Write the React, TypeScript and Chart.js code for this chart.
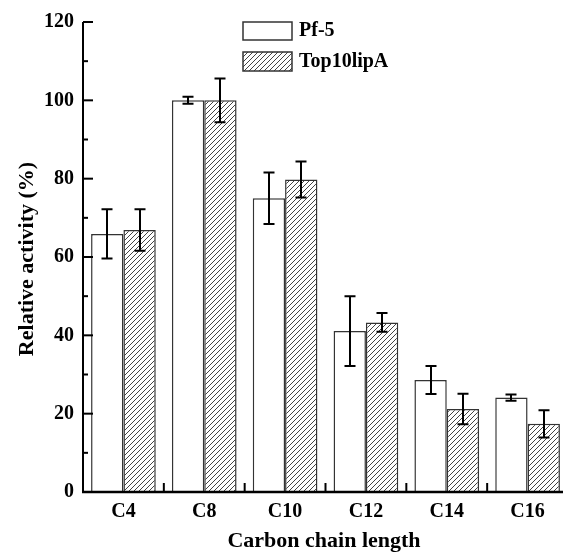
import React, { useEffect, useRef } from "react";
import { Chart, registerables } from "chart.js";
Chart.register(...registerables);

const categories = ["C4", "C8", "C10", "C12", "C14", "C16"];
const seriesNames = ["Pf-5", "Top10lipA"];
const pf5Values = [65.9, 100, 75.0, 41.1, 28.6, 24.1];
const pf5Errors = [6.3, 0.9, 6.6, 8.9, 3.6, 0.8];
const top10Values = [66.9, 100, 79.8, 43.3, 21.2, 17.4];
const top10Errors = [5.3, 5.6, 4.6, 2.4, 3.9, 3.5];
const yMin = 0;
const yMax = 120;
const yStep = 20;
const yMinorStep = 10;
const xTitle = "Carbon chain length";
const yTitle = "Relative activity (%)";

const FONT = "'Liberation Serif', 'Times New Roman', serif";

function makeHatch(ctx: CanvasRenderingContext2D): CanvasPattern | string {
  const s = 5;
  const c = document.createElement("canvas");
  c.width = s;
  c.height = s;
  const g = c.getContext("2d")!;
  g.fillStyle = "#ffffff";
  g.fillRect(0, 0, s, s);
  g.strokeStyle = "#444";
  g.lineWidth = 1;
  g.beginPath();
  g.moveTo(0, s);
  g.lineTo(s, 0);
  g.moveTo(-1, 1);
  g.lineTo(1, -1);
  g.moveTo(s - 1, s + 1);
  g.lineTo(s + 1, s - 1);
  g.stroke();
  return ctx.createPattern(c, "repeat") || "#ccc";
}

export default function App() {
  const ref = useRef<HTMLCanvasElement | null>(null);
  useEffect(() => {
    const canvas = ref.current!;
    const ctx = canvas.getContext("2d")!;
    const hatch = makeHatch(ctx);
    const errors = [pf5Errors, top10Errors];

    const errorPlugin = {
      id: "errorBars",
      afterDatasetsDraw(chart: any) {
        const c = chart.ctx;
        const ys = chart.scales.y;
        c.save();
        c.strokeStyle = "#000";
        c.lineWidth = 2;
        chart.data.datasets.forEach((ds: any, di: number) => {
          const meta = chart.getDatasetMeta(di);
          meta.data.forEach((bar: any, i: number) => {
            const v = ds.data[i];
            const e = errors[di][i];
            const x = Math.round(bar.x);
            const yt = ys.getPixelForValue(v + e);
            const yb = ys.getPixelForValue(v - e);
            c.beginPath();
            c.moveTo(x, yt);
            c.lineTo(x, yb);
            c.moveTo(x - 5.5, yt);
            c.lineTo(x + 5.5, yt);
            c.moveTo(x - 5.5, yb);
            c.lineTo(x + 5.5, yb);
            c.stroke();
          });
        });
        c.restore();
      },
    };

    const axesPlugin = {
      id: "axesDeco",
      afterDraw(chart: any) {
        const c = chart.ctx;
        const { left, right, top, bottom } = chart.chartArea;
        const ys = chart.scales.y;
        const xs = chart.scales.x;
        c.save();
        c.strokeStyle = "#000";
        // y spine
        c.lineWidth = 2;
        c.beginPath();
        c.moveTo(left, top);
        c.lineTo(left, bottom);
        c.stroke();
        // y ticks (inward)
        for (let v = yMin; v <= yMax; v += yMinorStep) {
          const y = ys.getPixelForValue(v);
          const major = v % yStep === 0;
          c.beginPath();
          c.moveTo(left, y);
          c.lineTo(left + (major ? 10 : 5), y);
          c.stroke();
        }
        // x ticks between categories (inward)
        for (let i = 1; i < categories.length; i++) {
          const x = (xs.getPixelForValue(i - 1) + xs.getPixelForValue(i)) / 2;
          c.beginPath();
          c.moveTo(x, bottom);
          c.lineTo(x, bottom - 9);
          c.stroke();
        }
        // x spine
        c.lineWidth = 2.5;
        c.beginPath();
        c.moveTo(left - 1, bottom);
        c.lineTo(chart.width, bottom);
        c.stroke();

        // axis titles
        c.fillStyle = "#000";
        c.font = `bold 22px ${FONT}`;
        c.textAlign = "center";
        c.textBaseline = "alphabetic";
        c.fillText(xTitle, 324, 547);
        c.save();
        c.translate(33, 259);
        c.rotate(-Math.PI / 2);
        c.fillText(yTitle, 0, 0);
        c.restore();

        // legend
        c.lineWidth = 1.5;
        c.strokeStyle = "#333";
        c.fillStyle = "#fff";
        c.fillRect(243, 22, 49, 18);
        c.strokeRect(243, 22, 49, 18);
        c.fillStyle = hatch as any;
        c.fillRect(243, 52, 49, 19);
        c.strokeRect(243, 52, 49, 19);
        c.fillStyle = "#000";
        c.font = `bold 20px ${FONT}`;
        c.textAlign = "left";
        c.textBaseline = "middle";
        c.fillText(seriesNames[0], 299, 31);
        c.fillText(seriesNames[1], 299, 62);
        c.restore();
      },
    };

    const tickFont = { family: FONT, size: 20, weight: "bold" as const };

    const chart = new Chart(canvas, {
      type: "bar",
      data: {
        labels: categories,
        datasets: [
          {
            label: seriesNames[0],
            data: pf5Values,
            backgroundColor: "#ffffff",
            borderColor: "#333",
            borderWidth: 1.5,
            categoryPercentage: 0.8,
            barPercentage: 1.0,
          },
          {
            label: seriesNames[1],
            data: top10Values,
            backgroundColor: hatch as any,
            borderColor: "#333",
            borderWidth: 1.5,
            categoryPercentage: 0.8,
            barPercentage: 1.0,
          },
        ],
      },
      options: {
        responsive: false,
        animation: false,
        devicePixelRatio: 1,
        layout: { padding: { top: 22, right: 7, left: 0, bottom: 0 } },
        plugins: {
          legend: { display: false },
          tooltip: { enabled: false },
          title: { display: false },
        },
        scales: {
          x: {
            grid: { display: false, drawTicks: false },
            border: { display: false },
            ticks: { font: tickFont, color: "#000", padding: 8 },
            afterFit: (s: any) => {
              s.height = 60;
            },
          },
          y: {
            min: yMin,
            max: yMax,
            grid: { display: false, drawTicks: false },
            border: { display: false },
            ticks: { stepSize: yStep, font: tickFont, color: "#000", padding: 9 },
            afterFit: (s: any) => {
              s.width = 83;
            },
          },
        },
      },
      plugins: [errorPlugin, axesPlugin],
    });
    return () => chart.destroy();
  }, []);

  return (
    <div style={{ position: "absolute", left: 0, top: 0, width: 575, height: 552, background: "#fff" }}>
      <canvas ref={ref} width={575} height={552} style={{ display: "block" }} />
    </div>
  );
}
